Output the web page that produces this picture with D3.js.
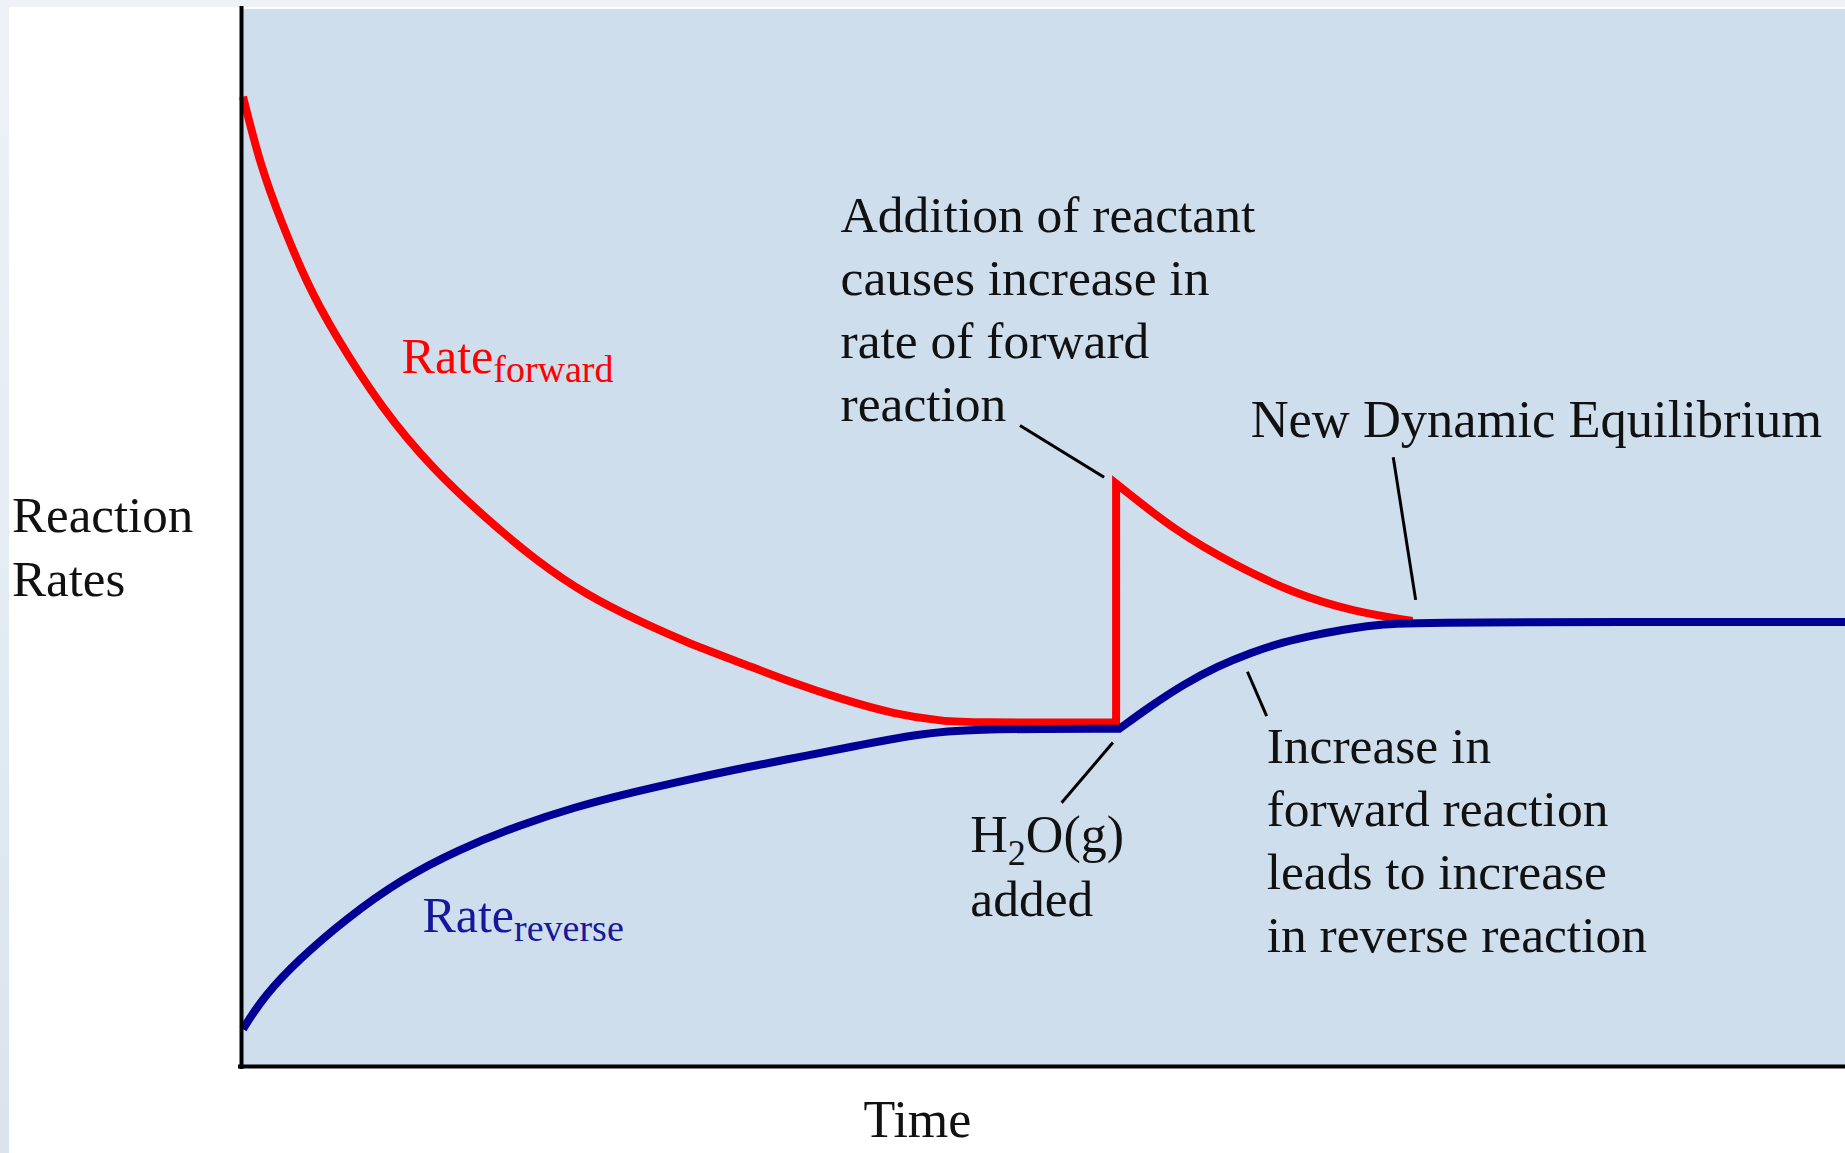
<!DOCTYPE html>
<html>
<head>
<meta charset="utf-8">
<script src="https://cdn.jsdelivr.net/npm/d3@7"></script>
<style>
  html, body { margin: 0; padding: 0; overflow: hidden; background: #fff; }
  svg { display: block; }
</style>
</head>
<body>
<svg id="chart"></svg>
<script>
// ---- Data: [time, rate] pairs on a 0–100 scale ----
// Forward rate falls from its initial value to the first equilibrium
const forwardBefore = [
  [0, 91.7], [1.1, 85.1], [2.4, 79.8], [4.0, 74.0], [5.6, 69.5], [8.7, 62.1],
  [11.9, 56.4], [15.1, 51.9], [18.3, 47.8], [21.5, 44.5], [24.7, 42.1],
  [27.8, 40.0], [31.0, 38.2], [34.2, 36.3], [37.4, 34.7], [40.6, 33.3],
  [43.8, 32.6], [45.4, 32.5], [54.5, 32.5]
];
// Forward rate after the jump caused by the added reactant
const forwardAfter = [
  [54.5, 55.1], [58.3, 50.5], [61.9, 47.4], [65.6, 44.7], [69.3, 43.0], [73.0, 42.1]
];
// Reverse rate rises to the first equilibrium
const reverseBefore = [
  [0, 3.5], [1.3, 6.6], [3.5, 10.1], [6.4, 13.9], [9.9, 17.7], [13.5, 20.5],
  [17.1, 22.7], [20.7, 24.5], [24.3, 25.9], [27.8, 27.1], [31.5, 28.3],
  [35.0, 29.3], [38.6, 30.4], [42.2, 31.4], [45.1, 31.9], [54.7, 31.9]
];
// Reverse rate climbs to the new equilibrium and stays there
const reverseAfter = [
  [54.7, 31.9], [56.6, 34.0], [58.7, 36.1], [60.8, 37.8], [62.9, 39.1],
  [64.9, 40.1], [67.0, 40.8], [69.1, 41.4], [71.2, 41.8], [73.3, 42.0],
  [100, 42.0]
];

// Annotation text and their anchors in [time, rate]
const axisLabelY = ["Reaction", "Rates"];
const axisLabelX = "Time";
const additionNote = ["Addition of reactant", "causes increase in", "rate of forward", "reaction"];
const additionAnchor = [37.3, 78.9];
const additionPointer = [[48.5, 60.6], [53.75, 55.7]];
const equilibriumNote = "New Dynamic Equilibrium";
const equilibriumAnchor = [62.9, 59.5];
const equilibriumPointer = [[71.8, 57.6], [73.2, 44.1]];
const waterNote = ["added"];
const waterAnchor = [45.4, 20.2];
const waterPointer = [[54.3, 30.6], [51.1, 24.9]];
const increaseNote = ["Increase in", "forward reaction", "leads to increase", "in reverse reaction"];
const increaseAnchor = [63.9, 28.7];
const increasePointer = [[62.7, 37.3], [63.9, 33.1]];
const forwardLabelAnchor = [9.9, 65.6];
const reverseLabelAnchor = [11.2, 12.7];

// ---- Layout ----
const W = 1845, H = 1153;
const plot = { left: 241, top: 9, bottom: 1066, right: W };
const FONT = "'Liberation Serif', 'Times New Roman', serif";
const RED = "#ff0000", BLUE = "#000096", BLUE_TEXT = "#17179c", INK = "#111";

const svg = d3.select("#chart").attr("width", W).attr("height", H);

const x = d3.scaleLinear().domain([0, 100]).range([243, W]);
const y = d3.scaleLinear().domain([0, 100]).range([plot.bottom, plot.top]);

// Page backdrop
const defs = svg.append("defs");
const g = defs.append("linearGradient").attr("id", "page").attr("x1", 0).attr("y1", 0).attr("x2", 0).attr("y2", 1);
g.append("stop").attr("offset", 0).attr("stop-color", "#eef2f7");
g.append("stop").attr("offset", 1).attr("stop-color", "#d9e4ef");
svg.append("rect").attr("width", W).attr("height", H).attr("fill", "url(#page)");
svg.append("rect").attr("x", 9).attr("y", 7).attr("width", W - 9).attr("height", H - 7).attr("fill", "#fff");

// Plot area
svg.append("rect")
  .attr("x", plot.left).attr("y", plot.top)
  .attr("width", plot.right - plot.left).attr("height", plot.bottom - plot.top)
  .attr("fill", "#cfdeec");

// Joins smooth segments into one path; later segments continue from the previous end
const smooth = d3.line().x(d => x(d[0])).y(d => y(d[1])).curve(d3.curveBasis);
const joined = (...segs) => segs.map((s, i) => i === 0 ? smooth(s) : smooth(s).replace(/^M/, "L")).join("");

svg.append("path")
  .attr("d", joined(forwardBefore, forwardAfter))
  .attr("fill", "none").attr("stroke", RED).attr("stroke-width", 8)
  .attr("stroke-linejoin", "miter").attr("stroke-miterlimit", 10);

svg.append("path")
  .attr("d", joined(reverseBefore, reverseAfter))
  .attr("fill", "none").attr("stroke", BLUE).attr("stroke-width", 8)
  .attr("stroke-linejoin", "miter");

// Axes (bare lines, no ticks)
const yAxis = svg.append("g").attr("transform", `translate(${plot.left},0)`)
  .call(d3.axisLeft(y).tickValues([]).tickSizeOuter(0));
const xAxis = svg.append("g").attr("transform", `translate(0,${plot.bottom})`)
  .call(d3.axisBottom(x).tickValues([]).tickSizeOuter(0));
svg.selectAll(".domain").attr("stroke", "#000").attr("stroke-width", 4).attr("stroke-linecap", "square");
yAxis.select(".domain").attr("d", `M0.5,${plot.bottom + 1}V${plot.top - 1}`);
xAxis.select(".domain").attr("d", `M${plot.left - 1},0.5H${W}`);

// Axis titles
const yTitle = svg.append("text").attr("font-family", FONT).attr("font-size", 51).attr("fill", INK);
axisLabelY.forEach((t, i) => yTitle.append("tspan").attr("x", 12).attr("y", 532 + i * 64).text(t));
svg.append("text").attr("font-family", FONT).attr("font-size", 52).attr("fill", INK)
  .attr("text-anchor", "middle").attr("x", x(42.1)).attr("y", plot.bottom + 71).text(axisLabelX);

// Series labels with subscripts
function rateLabel(anchor, sub, color) {
  const t = svg.append("text").attr("font-family", FONT).attr("fill", color)
    .attr("x", x(anchor[0])).attr("y", y(anchor[1]));
  t.append("tspan").attr("font-size", 50).text("Rate");
  t.append("tspan").attr("font-size", 38).attr("dy", 9).text(sub);
}
rateLabel(forwardLabelAnchor, "forward", RED);
rateLabel(reverseLabelAnchor, "reverse", BLUE_TEXT);

// Multi-line annotations
function note(lines, anchor, size = 51.5) {
  const t = svg.append("text").attr("font-family", FONT).attr("font-size", size).attr("fill", INK);
  lines.forEach((s, i) => t.append("tspan")
    .attr("x", x(anchor[0])).attr("y", y(anchor[1]) + i * 63).text(s));
}
note(additionNote, additionAnchor);
note([equilibriumNote], equilibriumAnchor, 52.5);
note(increaseNote, increaseAnchor);

// H2O(g) label with subscript 2, then "added" underneath
const water = svg.append("text").attr("font-family", FONT).attr("font-size", 52).attr("fill", INK)
  .attr("x", x(waterAnchor[0])).attr("y", y(waterAnchor[1]));
water.append("tspan").text("H");
water.append("tspan").attr("font-size", 36).attr("dy", 13).text("2");
water.append("tspan").attr("dy", -13).text("O(g)");
note(waterNote, [waterAnchor[0], y.invert(y(waterAnchor[1]) + 64)]);

// Leader lines
[additionPointer, equilibriumPointer, waterPointer, increasePointer].forEach(p => {
  svg.append("line")
    .attr("x1", x(p[0][0])).attr("y1", y(p[0][1]))
    .attr("x2", x(p[1][0])).attr("y2", y(p[1][1]))
    .attr("stroke", "#000").attr("stroke-width", 3);
});
</script>
</body>
</html>
